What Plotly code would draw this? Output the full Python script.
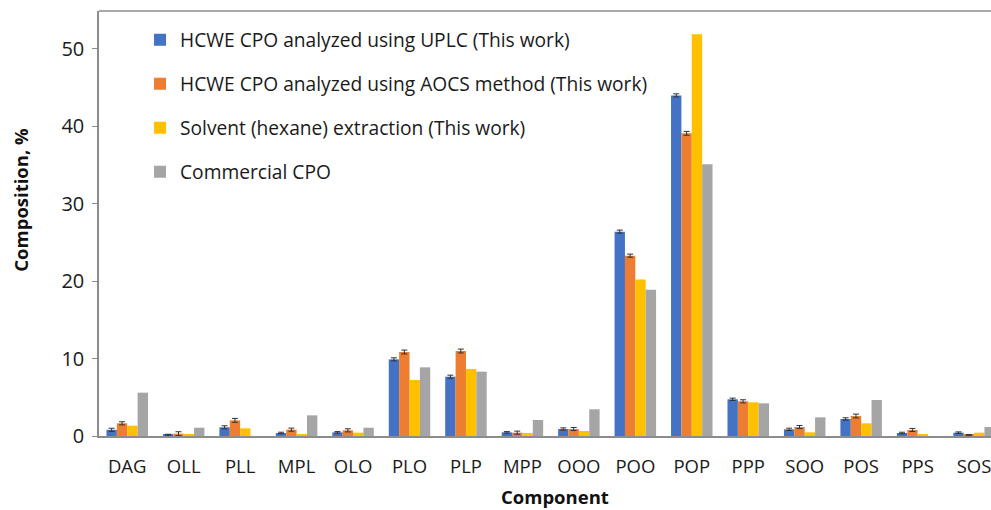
import plotly.graph_objects as go

categories = ["DAG", "OLL", "PLL", "MPL", "OLO", "PLO", "PLP", "MPP", "OOO", "POO",
              "POP", "PPP", "SOO", "POS", "PPS", "SOS"]
series_names = [
    "HCWE CPO analyzed using UPLC (This work)",
    "HCWE CPO analyzed using AOCS method (This work)",
    "Solvent (hexane) extraction (This work)",
    "Commercial CPO",
]
uplc = [0.8, 0.13, 1.12, 0.39, 0.47, 9.9, 7.66, 0.47, 0.9, 26.4, 44.0, 4.74, 0.86, 2.2, 0.39, 0.43]
aocs = [1.64, 0.3, 2.02, 0.82, 0.73, 10.85, 10.98, 0.43, 0.9, 23.3, 39.1, 4.48, 1.16, 2.58, 0.78, 0.13]
hexane = [1.33, 0.2, 0.99, 0.17, 0.43, 7.23, 8.66, 0.39, 0.65, 20.2, 51.9, 4.35, 0.47, 1.64, 0.26, 0.43]
commercial = [5.6, 1.07, 0.0, 2.67, 1.07, 8.87, 8.31, 2.07, 3.45, 18.9, 35.1, 4.22, 2.41, 4.65, 0.0, 1.16]
uplc_err = [0.2, 0.1, 0.2, 0.1, 0.1, 0.2, 0.2, 0.1, 0.15, 0.2, 0.2, 0.15, 0.15, 0.15, 0.1, 0.1]
aocs_err = [0.2, 0.25, 0.25, 0.2, 0.2, 0.25, 0.25, 0.2, 0.2, 0.2, 0.25, 0.2, 0.2, 0.25, 0.2, 0.05]
y_ticks = [0, 10, 20, 30, 40, 50]

colors = ["#4472C4", "#ED7D31", "#FFC000", "#A5A5A5"]
FONT = "Open Sans"

fig = go.Figure()
data = [uplc, aocs, hexane, commercial]
errs = [uplc_err, aocs_err, None, None]
for i, (name, vals, err, col) in enumerate(zip(series_names, data, errs, colors)):
    kw = {}
    if err is not None:
        kw["error_y"] = dict(type="data", array=err, visible=True, color="#333333",
                             thickness=1, width=3)
    fig.add_trace(go.Bar(x=categories, y=vals, name=name, marker_color=col,
                         marker_line_width=0, legendgroup=f"g{i}", **kw))

fig.update_layout(
    width=991, height=510,
    margin=dict(l=99, r=0, t=11, b=74),
    barmode="group", bargap=0.265, bargroupgap=0,
    plot_bgcolor="white", paper_bgcolor="white",
    font=dict(family=FONT, color="#1a1a1a"),
    legend=dict(x=0.046, y=0.977, xanchor="left", yanchor="top",
                font=dict(size=19.2, family=FONT, color="#1a1a1a"),
                bgcolor="rgba(0,0,0,0)", itemsizing="constant",
                traceorder="grouped", tracegroupgap=16, itemwidth=30),
    xaxis=dict(range=[-0.5, 15.3], showline=True, linecolor="#8c8c8c", linewidth=1.5,
               ticks="", ticklabelstandoff=13,
               tickfont=dict(size=18.5, family=FONT, color="#1a1a1a"),
               showgrid=False, fixedrange=True),
    yaxis=dict(range=[0, 54.9], tickvals=y_ticks, showline=True, linecolor="#8c8c8c",
               linewidth=1.5, ticks="outside", ticklen=5, tickcolor="#8c8c8c",
               ticklabelstandoff=4,
               tickfont=dict(size=20, family=FONT, color="#1a1a1a"),
               showgrid=False, zeroline=False),
    annotations=[
        dict(text="<b>Composition, %</b>", xref="paper", yref="paper", x=-0.0874, y=0.556,
             xanchor="center", yanchor="middle",
             textangle=-90, showarrow=False, font=dict(size=18.5, family=FONT, color="#111111")),
        dict(text="<b>Component</b>", xref="paper", yref="paper", x=0.511, y=-0.1435,
             xanchor="center", yanchor="middle", showarrow=False,
             font=dict(size=18.5, family=FONT, color="#111111")),
    ],
    shapes=[dict(type="line", xref="paper", yref="paper", x0=0, x1=1, y0=1, y1=1,
                 line=dict(color="#8c8c8c", width=1.5))],
)

fig.write_html("out.html")
